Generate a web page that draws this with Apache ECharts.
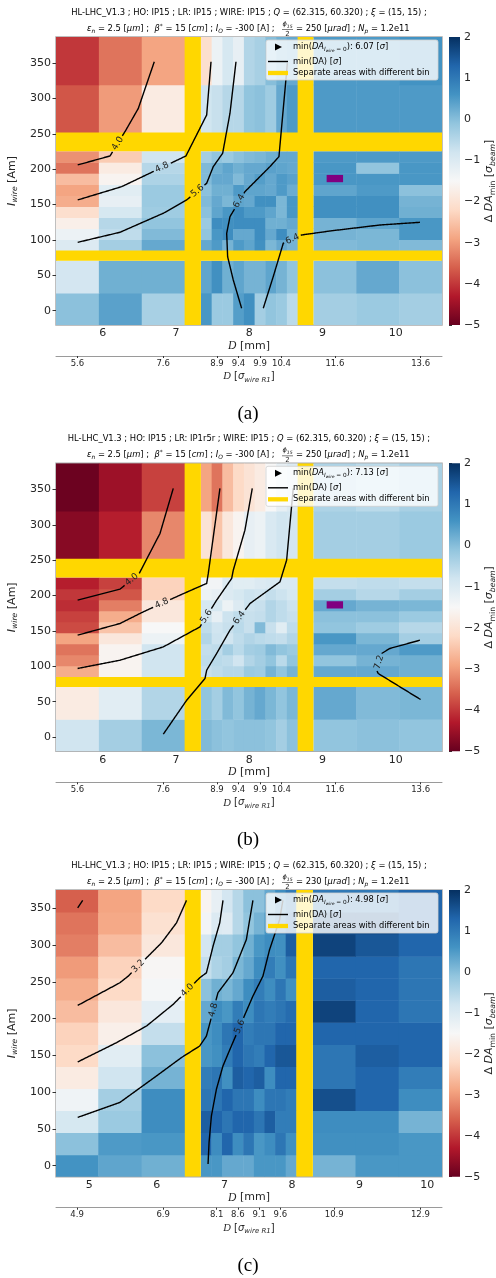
<!DOCTYPE html>
<html>
<head>
<meta charset="utf-8">
<script src="https://cdn.jsdelivr.net/npm/echarts@6/dist/echarts.min.js"></script>
<style>
html, body { margin: 0; padding: 0; background: #fff; }
#chart { width: 496px; height: 1278px; }
</style>
</head>
<body>
<div id="chart"></div>
<script>
// RdBu colour scale, -5 .. 2
const cmap = ['#67001f', '#b2182b', '#d6604d', '#f4a582', '#fddbc7', '#f7f7f7', '#d1e5f0', '#92c5de', '#4393c3', '#2166ac', '#053061'];
const cbTicks = [-5, -4, -3, -2, -1, 0, 1, 2];

// bins of panels (a) and (b): D [mm] and I_wire [Am]
const colsAB = [[5.363, 5.948], [5.948, 6.533], [6.533, 7.118],
  [7.34, 7.487], [7.487, 7.633], [7.633, 7.78], [7.78, 7.927], [7.927, 8.073], [8.073, 8.22], [8.22, 8.367], [8.367, 8.513], [8.513, 8.66],
  [8.875, 9.46], [9.46, 10.045], [10.045, 10.63]];
const rowsAB = [[-20.2, 25.2], [25.2, 70.6],
  [85, 100.6], [100.6, 116.2], [116.2, 131.8], [131.8, 147.4], [147.4, 163], [163, 178.6], [178.6, 194.2], [194.2, 209.8], [209.8, 225.4],
  [252, 319.5], [319.5, 387]];

// Delta DA_min, rows from bottom to top
const valsA = [
  [-0.05, 0.4, -0.35, 0.55, -0.2, -0.2, 0.45, 0.65, -0.3, -0.1, -0.2, -0.55, -0.3, -0.2, -0.3],
  [-0.85, 0.2, 0.2, 0.35, 0.65, 0.2, 0.35, 0.15, 0.15, 0.35, 0.15, -0.1, -0.05, 0.3, -0.05],
  [-1.0, -0.3, 0.3, 0.3, 0.5, 0.15, 0.5, 0.35, 0.65, 0.1, 0.3, 0.15, 0.05, 0.1, 0.05],
  [-1.3, -0.6, 0.05, -0.1, 0.55, 0.7, 0.3, 0.3, 0.7, 0.3, 0.7, 0.2, 0.15, 0.1, 0.55],
  [-1.7, -0.5, -0.1, -0.2, 0.7, 0.65, 0.7, 0.7, 0.7, 0.2, 0.2, 0.3, 0.15, 0.35, 0.55],
  [-2.1, -0.9, -0.25, -0.05, 0.35, 0.55, 0.7, 0.5, 0.5, 0.35, 0.1, 0.55, 0.65, 0.65, 0.2],
  [-2.8, -1.2, -0.2, 0.05, 0.3, 0.1, 0.35, 0.3, 0.65, 0.65, 0.1, 0.55, 0.65, 0.65, 0.15],
  [-2.9, -1.1, -0.2, -0.05, 0.2, 0.2, 0.5, 0.35, 0.35, 0.3, 0.5, 0.25, 0.35, 0.5, -0.05],
  [-2.6, -1.6, -0.4, 0.05, 0.3, 0.3, 0.05, 0.3, 0.45, 0.3, 0.5, 0.4, 0.55, 0.55, 0.55],
  [-3.4, -1.8, -0.5, 0.05, 0.2, 0.35, 0.2, 0.3, 0.3, 0.4, 0.35, 0.3, 0.55, -0.1, 0.55],
  [-3.1, -2.4, -0.8, -0.3, -0.1, -0.2, -0.05, 0.05, 0.1, 0.2, 0.3, 0.3, 0.5, 0.5, 0.5],
  [-3.7, -3.0, -1.8, -0.8, -0.7, -0.5, -0.5, -0.1, -0.05, -0.25, 0.3, 0.5, 0.5, 0.5, 0.5],
  [-4.0, -3.4, -2.9, -2.1, -1.3, -0.9, -1.2, -0.45, -0.35, 0.0, 0.2, 0.3, 0.5, 0.5, 0.6]
];
const valsB = [
  [-0.8, -0.3, 0.1, 0.05, -0.05, -0.1, -0.05, -0.05, -0.05, -0.1, -0.3, -0.05, -0.1, -0.05, -0.1],
  [-1.8, -1.1, -0.45, -0.1, -0.3, 0.05, -0.1, 0.15, 0.3, 0.1, -0.1, 0.1, 0.3, 0.05, 0.1],
  [-2.8, -1.6, -0.8, -0.7, -0.6, -0.5, -0.5, -0.2, -0.25, 0.15, -0.1, 0.15, 0.3, 0.3, 0.2],
  [-3.2, -1.6, -0.8, -0.6, -0.55, -0.6, -0.8, -0.45, -0.3, -0.1, -0.55, -0.1, -0.1, 0.15, 0.2],
  [-3.4, -1.6, -0.8, -0.65, -0.6, -0.3, -0.55, -0.3, -0.25, 0.05, -0.1, -0.2, 0.3, 0.3, 0.5],
  [-2.9, -1.9, -1.3, -0.45, -0.75, -0.8, -0.6, -0.45, -0.55, -0.6, -0.65, -0.45, 0.55, 0.1, -0.3],
  [-3.8, -2.5, -1.5, -0.6, -0.8, -0.7, -0.55, -0.7, 0.05, -0.7, -1.1, -0.6, -0.1, -0.25, -0.5],
  [-3.9, -2.8, -1.9, -0.8, -1.2, -0.75, -0.6, -0.7, -0.65, -0.45, -0.6, -0.7, -0.05, -0.05, -0.2],
  [-4.1, -3.3, -1.9, -0.9, -0.9, -1.3, -1.0, -0.75, -0.7, -0.45, -0.6, -0.75, 0.3, 0.15, 0.1],
  [-4.0, -3.7, -2.3, -1.3, -1.2, -1.0, -0.9, -0.75, -0.8, -0.65, -0.75, -0.9, -0.3, -0.5, -0.3],
  [-4.25, -3.9, -2.3, -1.4, -1.4, -1.0, -1.1, -1.1, -1.0, -0.95, -0.95, -0.95, -0.65, -0.6, -0.65],
  [-4.7, -4.25, -3.2, -2.0, -2.5, -1.9, -1.6, -1.2, -1.3, -0.95, -0.8, -0.85, -0.3, -0.3, -0.2],
  [-4.95, -4.5, -3.9, -2.9, -3.4, -2.6, -2.2, -2.0, -1.8, -1.5, -1.2, -1.0, -0.4, -0.55, -0.35]
];

// bins of panel (c)
const colsC = [[4.508, 5.133], [5.133, 5.774], [5.774, 6.414],
  [6.65, 6.807], [6.807, 6.964], [6.964, 7.121], [7.121, 7.278], [7.278, 7.436], [7.436, 7.593], [7.593, 7.75], [7.75, 7.907], [7.907, 8.064],
  [8.309, 8.94], [8.94, 9.579], [9.579, 10.22]];
const rowsC = [[-15, 15], [15, 45], [45, 75], [75, 105], [105, 135], [135, 165], [165, 195],
  [195, 225], [225, 255], [255, 285], [285, 315], [315, 345], [345, 375]];
const valsC = [
  [0.6, 0.35, 0.2, 0.55, 0.55, 0.3, 0.3, 0.3, 0.55, 0.55, 0.55, 0.3, 0.15, 0.55, 0.55],
  [-0.05, 0.5, 0.55, 1.3, 0.7, 1.3, 0.7, 1.05, 0.55, 0.7, 1.05, 0.65, 0.65, 0.65, 0.55],
  [-0.9, -0.2, 0.7, 1.4, 1.3, 1.05, 1.3, 1.3, 1.05, 1.4, 0.95, 0.95, 0.7, 0.7, 0.15],
  [-1.35, -0.3, 0.7, 1.05, 1.05, 1.3, 1.05, 1.05, 0.7, 1.05, 1.05, 0.95, 1.6, 1.3, 0.7],
  [-1.8, -0.8, 0.15, 0.95, 1.05, 0.65, 1.4, 1.3, 1.4, 0.7, 1.3, 1.3, 1.05, 1.3, 0.95],
  [-2.2, -1.1, -0.05, 0.55, 0.65, 0.95, 1.3, 1.05, 0.95, 1.3, 1.5, 1.5, 1.05, 1.4, 1.3],
  [-2.3, -1.7, -0.65, 0.55, 0.7, 1.05, 1.3, 0.95, 1.05, 1.05, 1.3, 1.3, 1.3, 1.3, 1.3],
  [-2.6, -1.9, -1.15, 0.3, 0.7, 0.55, 0.95, 0.7, 1.05, 0.95, 1.05, 1.2, 1.75, 1.3, 1.05],
  [-2.8, -2.2, -1.45, -0.05, 0.2, 0.1, 0.3, 0.7, 0.95, 0.7, 1.05, 0.65, 1.4, 1.3, 1.05],
  [-3.0, -2.3, -1.55, -0.65, -0.4, -0.3, 0.1, 0.3, 0.7, 0.95, 0.65, 1.05, 1.3, 1.3, 1.05],
  [-3.3, -2.6, -1.9, -0.85, -0.3, -0.3, -0.1, 0.2, 0.55, 0.7, 0.65, 1.4, 1.75, 1.5, 1.3],
  [-3.4, -2.85, -2.05, -1.4, -1.0, -1.05, -0.5, -0.1, 0.15, 0.55, 0.95, 1.3, 1.6, 1.6, 1.3],
  [-3.6, -2.9, -2.2, -1.6, -1.2, -0.85, -0.5, -0.05, -0.05, 0.3, 0.7, 1.0, 1.0, 1.0, 1.3]
];

// separate areas with different bin
const bandXAB = [[7.118, 7.34], [8.66, 8.875]];
const bandYAB = [[70.6, 85], [225.4, 252]];
const bandXC = [[6.414, 6.65], [8.064, 8.309]];
const markAB = [[9.056, 9.28, 181.7, 192]];

// ticks
const iTicks = [0, 50, 100, 150, 200, 250, 300, 350];
const mmTicksAB = [6, 7, 8, 9, 10];
const mmTicksC = [5, 6, 7, 8, 9, 10];
const sigPosAB = [5.655, 6.825, 7.56, 7.853, 8.147, 8.44, 9.168, 10.338];
const sigLabAB = ['5.6', '7.6', '8.9', '9.4', '9.9', '10.4', '11.6', '13.6'];
const sigPosC = [4.82, 6.094, 6.886, 7.199, 7.514, 7.828, 8.625, 9.9];
const sigLabC = ['4.9', '6.9', '8.1', '8.6', '9.1', '9.6', '10.9', '12.9'];

const lrText = ['IP15', 'IP1r5r', 'IP15'];
const phiText = ['250', '250', '230'];
const minDA0 = ['6.07', '7.13', '4.98'];
const captions = ['(a)', '(b)', '(c)'];

// min(DA) contours [D mm, I Am], label point
const contA = [
  {lv: '4.0', at: [6.236, 234.4], pts: [[6.704, 352], [6.486, 286], [6.318, 255.6], [6.10, 218.8], [5.659, 206.1]]},
  {lv: '4.8', at: [6.805, 203.7], pts: [[7.478, 352], [7.419, 276.8], [7.136, 218.8], [6.259, 175.4], [5.659, 156.6]]},
  {lv: '5.6', at: [7.282, 170.7], pts: [[7.819, 352], [7.737, 279.2], [7.637, 222.6], [7.509, 203.7], [7.419, 180.2], [7.146, 156.6], [6.827, 137.8], [6.236, 110.9], [5.659, 96.7]]},
  {lv: '6.4', at: [7.83, 157], pts: [[8.52, 350], [8.51, 338], [8.405, 217.8], [8.282, 203.7], [7.941, 168.3], [7.737, 133], [7.692, 109.5], [7.705, 76.4], [7.782, 43.4], [7.896, 3.4]]},
  {lv: '6.4', at: [8.578, 103.8], pts: [[8.191, 3.4], [8.327, 48.1], [8.464, 95.3], [8.715, 107.1], [9.101, 112.7], [9.783, 121.2], [10.329, 125]]}
];
const contB = [
  {lv: '4.0', at: [6.417, 220], pts: [[6.963, 351.5], [6.782, 287.8], [6.499, 231.3], [6.236, 209], [5.658, 193.5]]},
  {lv: '4.8', at: [6.805, 189], pts: [[7.60, 351.5], [7.441, 231.3], [7.419, 217.2], [7.055, 200.6], [6.554, 177], [6.236, 160.5], [5.658, 144]]},
  {lv: '5.6', at: [7.42, 170], pts: [[8.041, 351.5], [7.941, 292.5], [7.782, 235.9], [7.76, 224.2], [7.555, 193.5], [7.327, 155.7], [6.827, 127.4], [6.236, 108.6], [5.658, 96.9]]},
  {lv: '6.4', at: [7.85, 170], pts: [[8.60, 351.5], [8.51, 250.1], [8.419, 219.4], [8.01, 188.8], [7.737, 151.1], [7.555, 118.1], [7.419, 94.5], [7.396, 82.7], [7.146, 52], [6.827, 4]]},
  {lv: '7.2', at: [9.70, 108], pts: [[10.329, 136.9], [9.919, 125.2], [9.806, 118.1], [9.738, 94.5], [9.76, 89.8], [10.338, 53]]}
];
const contC = [
  {lv: '', at: null, pts: [[4.829, 350.6], [4.903, 360.9]]},
  {lv: '3.2', at: [5.724, 271.4], pts: [[6.439, 360.9], [6.291, 330.3], [6.069, 303.1], [5.848, 282.8], [5.576, 257.8], [5.453, 248.8], [4.829, 218]]},
  {lv: '4.0', at: [6.439, 239.8], pts: [[6.979, 360.9], [6.931, 330.3], [6.832, 298.5], [6.734, 262.4], [6.635, 255.6], [6.241, 219.4], [5.848, 190], [5.405, 167.4], [4.829, 141.1]]},
  {lv: '4.8', at: [6.808, 212.6], pts: [[7.422, 360.9], [7.325, 307.6], [7.127, 262.4], [6.905, 235.3], [6.734, 176.4], [6.635, 162.8], [6.365, 147.1], [5.996, 122.1], [5.453, 86], [4.829, 65.7]]},
  {lv: '5.6', at: [7.201, 190], pts: [[7.866, 360.9], [7.817, 334.7], [7.669, 294], [7.57, 257.8], [7.422, 230.7], [7.103, 162.8], [6.979, 135.7], [6.882, 104.1], [6.808, 67.8], [6.773, 31.8], [6.758, 2.3]]}
];

const FONT = 'DejaVu Sans';
const panels = [
  {top: 37, h: 288, x: [5.363, 10.63], y: [-20.2, 387], cols: colsAB, rows: rowsAB, vals: valsA, bx: bandXAB, by: bandYAB, mark: markAB, cont: contA, mm: mmTicksAB, sp: sigPosAB, sl: sigLabAB},
  {top: 463.3, h: 288, x: [5.363, 10.63], y: [-20.2, 387], cols: colsAB, rows: rowsAB, vals: valsB, bx: bandXAB, by: bandYAB, mark: markAB, cont: contB, mm: mmTicksAB, sp: sigPosAB, sl: sigLabAB},
  {top: 890, h: 286.7, x: [4.508, 10.22], y: [-15, 375], cols: colsC, rows: rowsC, vals: valsC, bx: bandXC, by: [], mark: [], cont: contC, mm: mmTicksC, sp: sigPosC, sl: sigLabC}
];

function richSet(fs) {
  return {
    n: {fontSize: fs, fontFamily: FONT, verticalAlign: 'middle', color: '#262626'},
    i: {fontSize: fs, fontFamily: FONT, fontStyle: 'italic', verticalAlign: 'middle', color: '#262626'},
    c: {fontSize: fs * 1.05, fontFamily: 'Liberation Serif', fontStyle: 'italic', verticalAlign: 'middle', color: '#262626'},
    s: {fontSize: fs * 0.7, fontFamily: FONT, fontStyle: 'italic', verticalAlign: 'top', padding: [fs * 0.62, 0, 0, 0], color: '#262626'},
    r: {fontSize: fs * 0.7, fontFamily: FONT, verticalAlign: 'top', padding: [fs * 0.62, 0, 0, 0], color: '#262626'},
    ss: {fontSize: fs * 0.5, fontFamily: FONT, fontStyle: 'italic', verticalAlign: 'top', padding: [fs * 0.85, 0, 0, 0], color: '#262626'},
    u: {fontSize: fs * 0.7, fontFamily: FONT, verticalAlign: 'top', color: '#262626'}
  };
}

function cellItem(params, api) {
  const a = api.coord([api.value(0), api.value(3)]);
  const b = api.coord([api.value(1), api.value(2)]);
  return {type: 'rect', shape: {x: a[0], y: a[1], width: b[0] - a[0] + 0.5, height: b[1] - a[1] + 0.5},
    style: {fill: api.visual('color')}};
}
function bandItem(color) {
  return function (params, api) {
    const a = api.coord([api.value(0), api.value(3)]);
    const b = api.coord([api.value(1), api.value(2)]);
    return {type: 'rect', shape: {x: a[0], y: a[1], width: b[0] - a[0], height: b[1] - a[1]}, style: {fill: color}};
  };
}
function contourItem(list) {
  return function (params, api) {
    const c = list[params.dataIndex];
    const px = c.pts.map(p => api.coord(p));
    let best = null;
    if (c.at) {
      const lab = api.coord(c.at);
      for (let i = 0; i < px.length - 1; i++) {
        const [x1, y1] = px[i], [x2, y2] = px[i + 1];
        const dx = x2 - x1, dy = y2 - y1, L = dx * dx + dy * dy;
        let t = L ? ((lab[0] - x1) * dx + (lab[1] - y1) * dy) / L : 0;
        t = Math.max(0, Math.min(1, t));
        const qx = x1 + t * dx, qy = y1 + t * dy;
        const d = (qx - lab[0]) ** 2 + (qy - lab[1]) ** 2;
        if (!best || d < best.d) best = {d, qx, qy, dx, dy};
      }
    }
    const gap = 9;
    const runs = [];
    let cur = [];
    for (let i = 0; i < px.length - 1; i++) {
      const [x1, y1] = px[i], [x2, y2] = px[i + 1];
      const n = Math.max(1, Math.ceil(Math.hypot(x2 - x1, y2 - y1)));
      for (let j = i ? 1 : 0; j <= n; j++) {
        const x = x1 + (x2 - x1) * j / n, y = y1 + (y2 - y1) * j / n;
        if (!best || Math.hypot(x - best.qx, y - best.qy) > gap) cur.push([x, y]);
        else if (cur.length) { runs.push(cur); cur = []; }
      }
    }
    if (cur.length) runs.push(cur);
    const children = runs.filter(r => r.length > 1).map(r => ({
      type: 'polyline', shape: {points: r}, style: {stroke: '#000', lineWidth: 1.4, fill: null}
    }));
    if (best) {
      let ang = Math.atan2(-best.dy, best.dx);
      if (ang > Math.PI / 2) ang -= Math.PI;
      if (ang < -Math.PI / 2) ang += Math.PI;
      children.push({type: 'text', x: best.qx, y: best.qy, rotation: ang,
        style: {text: c.lv, fill: '#222', fontSize: 9, fontFamily: FONT, align: 'center', verticalAlign: 'middle', textAlign: 'center', textVerticalAlign: 'middle'}});
    }
    return {type: 'group', children};
  };
}

const grids = [], xAxes = [], yAxes = [], series = [], graphics = [], cellSeries = [];
const cbStops = cmap.map((c, i) => ({offset: i / (cmap.length - 1), color: c}));

panels.forEach((p, k) => {
  const g = 3 * k;
  grids.push({left: 56, top: p.top, width: 386, height: p.h, show: true, borderColor: '#aaa', borderWidth: 1.5, outerBoundsMode: 'none'});
  grids.push({left: 56, top: p.top + p.h + 30, width: 386, height: 1, outerBoundsMode: 'none'});
  grids.push({left: 449, top: p.top, width: 11, height: p.h, outerBoundsMode: 'none'});

  xAxes.push({gridIndex: g, type: 'value', min: p.x[0], max: p.x[1],
    axisLine: {show: false}, splitLine: {show: false},
    axisTick: {show: true, length: 2, customValues: p.mm, lineStyle: {color: '#333'}},
    axisLabel: {customValues: p.mm, fontSize: 11, fontFamily: FONT, color: '#262626', margin: 3},
    name: '{c|D}{n| [mm]}', nameLocation: 'middle', nameGap: 14,
    nameTextStyle: {rich: richSet(11)}});
  xAxes.push({gridIndex: g + 1, type: 'value', min: p.x[0], max: p.x[1],
    axisLine: {show: true, lineStyle: {color: '#9a9a9a', width: 1}}, splitLine: {show: false},
    axisTick: {show: true, length: 2, customValues: p.sp, lineStyle: {color: '#333'}},
    axisLabel: {customValues: p.sp, fontSize: 8.5, fontFamily: FONT, color: '#262626', margin: 3,
      formatter: v => p.sl[p.sp.findIndex(q => Math.abs(q - v) < 1e-6)] || ''},
    name: '{c|D}{n| [}{i|σ}{s|wire R1}{n|]}', nameLocation: 'middle', nameGap: 14,
    nameTextStyle: {rich: richSet(10)}});
  xAxes.push({gridIndex: g + 2, type: 'value', min: 0, max: 1, show: false});

  yAxes.push({gridIndex: g, type: 'value', min: p.y[0], max: p.y[1],
    axisLine: {show: false}, splitLine: {show: false},
    axisTick: {show: true, length: 3.5, customValues: iTicks, lineStyle: {color: '#333'}},
    axisLabel: {customValues: iTicks, fontSize: 11, fontFamily: FONT, color: '#262626', margin: 5},
    name: '{i|I}{s|wire}{n| [Am]}', nameLocation: 'middle', nameGap: 29, nameRotate: 90,
    nameTextStyle: {rich: richSet(11)}});
  yAxes.push({gridIndex: g + 1, type: 'value', min: 0, max: 1, show: false});
  yAxes.push({gridIndex: g + 2, type: 'value', min: -5, max: 2, interval: 1, position: 'right',
    axisLine: {show: false}, splitLine: {show: false},
    axisTick: {show: true, length: 3, lineStyle: {color: '#333'}},
    axisLabel: {fontSize: 11, fontFamily: FONT, color: '#262626', margin: 4, formatter: v => String(v).replace('-', '\u2212')},
    name: '{n|Δ }{i|DA}{r|min}{n| [}{i|σ}{s|beam}{n|]}', nameLocation: 'middle', nameGap: 22, nameRotate: 90,
    nameTextStyle: {rich: richSet(11)}});

  const cells = [];
  p.rows.forEach((r, i) => p.cols.forEach((c, j) => cells.push([c[0], c[1], r[0], r[1], p.vals[i][j]])));
  cellSeries.push(series.length);
  series.push({type: 'custom', xAxisIndex: g, yAxisIndex: g, clip: true, silent: true, z: 1,
    encode: {x: [0, 1], y: [2, 3]}, data: cells, renderItem: cellItem});

  const bands = p.bx.map(b => [b[0], b[1], p.y[0], p.y[1]]).concat(p.by.map(b => [p.x[0], p.x[1], b[0], b[1]]));
  series.push({type: 'custom', xAxisIndex: g, yAxisIndex: g, clip: true, silent: true, z: 2,
    encode: {x: [0, 1], y: [2, 3]}, data: bands, renderItem: bandItem('#ffd700')});
  if (p.mark.length) {
    series.push({type: 'custom', xAxisIndex: g, yAxisIndex: g, clip: true, silent: true, z: 3,
      encode: {x: [0, 1], y: [2, 3]}, data: p.mark, renderItem: bandItem('#800080')});
  }
  series.push({type: 'custom', xAxisIndex: g, yAxisIndex: g, clip: true, silent: true, z: 4,
    encode: {x: 0, y: 1}, data: p.cont.map(c => c.at || c.pts[0]), renderItem: contourItem(p.cont)});

  series.push({type: 'custom', xAxisIndex: g + 2, yAxisIndex: g + 2, silent: true,
    encode: {x: [0, 1], y: [2, 3]}, data: [[0, 1, -5, 2]],
    renderItem: (params, api) => {
      const a = api.coord([0, 2]), b = api.coord([1, -5]);
      return {type: 'rect', shape: {x: a[0], y: a[1], width: b[0] - a[0], height: b[1] - a[1]},
        style: {fill: new echarts.graphic.LinearGradient(0, 1, 0, 0, cbStops)}};
    }});

  // titles
  const t1 = p.top - 24.5, t2 = p.top - 8;
  const tr = richSet(8.4);
  graphics.push({type: 'text', x: 249, y: t1, style: {
    text: '{n|HL-LHC_V1.3 ; HO: IP15 ; LR: ' + lrText[k] + ' ; WIRE: IP15 ; }{i|Q}{n| = (62.315, 60.320) ; }{i|ξ}{n| = (15, 15) ;}',
    rich: tr, align: 'center', verticalAlign: 'middle', textAlign: 'center', textVerticalAlign: 'middle'}});
  graphics.push({type: 'text', x: 280, y: t2, style: {
    text: '{i|ε}{s|n}{n| = 2.5 [}{i|μm}{n|] ;  }{i|β}{u|*}{n| = 15 [}{i|cm}{n|] ; }{i|I}{s|O}{n| = -300 [A] ;  }',
    rich: tr, align: 'right', verticalAlign: 'middle', textAlign: 'right', textVerticalAlign: 'middle'}});
  graphics.push({type: 'text', x: 287.5, y: t2 - 4.5, style: {
    text: '{i|ϕ}{s|15}', rich: richSet(6.5), align: 'center', verticalAlign: 'middle', textAlign: 'center', textVerticalAlign: 'middle'}});
  graphics.push({type: 'line', shape: {x1: 282, y1: t2 + 0.5, x2: 293, y2: t2 + 0.5}, style: {stroke: '#262626', lineWidth: 0.6}});
  graphics.push({type: 'text', x: 287.5, y: t2 + 4.8, style: {
    text: '2', fill: '#262626', fontSize: 7, fontFamily: FONT, align: 'center', verticalAlign: 'middle', textAlign: 'center', textVerticalAlign: 'middle'}});
  graphics.push({type: 'text', x: 296, y: t2, style: {
    text: '{n|= ' + phiText[k] + ' [}{i|μrad}{n|] ; }{i|N}{s|p}{n| = 1.2e11}',
    rich: tr, align: 'left', verticalAlign: 'middle', textAlign: 'left', textVerticalAlign: 'middle'}});

  // legend
  const lx = 266, ly = p.top + 3;
  const lr = richSet(8.3);
  const lt = {verticalAlign: 'middle', textVerticalAlign: 'middle'};
  graphics.push({type: 'rect', z: 100, shape: {x: lx, y: ly, width: 172, height: 40, r: 2}, style: {fill: 'rgba(255,255,255,0.8)', stroke: '#d0d0d0', lineWidth: 0.8}});
  graphics.push({type: 'polygon', z: 101, shape: {points: [[lx + 9, ly + 3.5], [lx + 9, ly + 10.5], [lx + 16, ly + 7]]}, style: {fill: '#000'}});
  graphics.push({type: 'line', z: 101, shape: {x1: lx + 2, y1: ly + 21.5, x2: lx + 22, y2: ly + 21.5}, style: {stroke: '#000', lineWidth: 1.4}});
  graphics.push({type: 'line', z: 101, shape: {x1: lx + 2, y1: ly + 33, x2: lx + 22, y2: ly + 33}, style: {stroke: '#ffd700', lineWidth: 4.3}});
  graphics.push({type: 'text', z: 101, x: lx + 27, y: ly + 7, style: Object.assign({text: '{n|min(}{i|DA}{s|I}{ss|wire}{r| = 0}{n|): ' + minDA0[k] + ' [}{i|σ}{n|]}', rich: lr}, lt)});
  graphics.push({type: 'text', z: 101, x: lx + 27, y: ly + 21.5, style: Object.assign({text: '{n|min(DA) [}{i|σ}{n|]}', rich: lr}, lt)});
  graphics.push({type: 'text', z: 101, x: lx + 27, y: ly + 33, style: Object.assign({text: '{n|Separate areas with different bin}', rich: lr}, lt)});

  graphics.push({type: 'text', x: 248, y: p.top + p.h + 89, style: {
    text: captions[k], fill: '#000', fontSize: 19, fontFamily: 'Liberation Serif', align: 'center', verticalAlign: 'middle', textAlign: 'center', textVerticalAlign: 'middle'}});
});

const chart = echarts.init(document.getElementById('chart'), null, {renderer: 'canvas'});
chart.setOption({
  animation: false,
  backgroundColor: '#fff',
  textStyle: {fontFamily: FONT},
  grid: grids,
  xAxis: xAxes,
  yAxis: yAxes,
  visualMap: {type: 'continuous', show: false, min: -5, max: 2, dimension: 4, seriesIndex: cellSeries, inRange: {color: cmap}},
  graphic: graphics,
  series: series
});
</script>
</body>
</html>
